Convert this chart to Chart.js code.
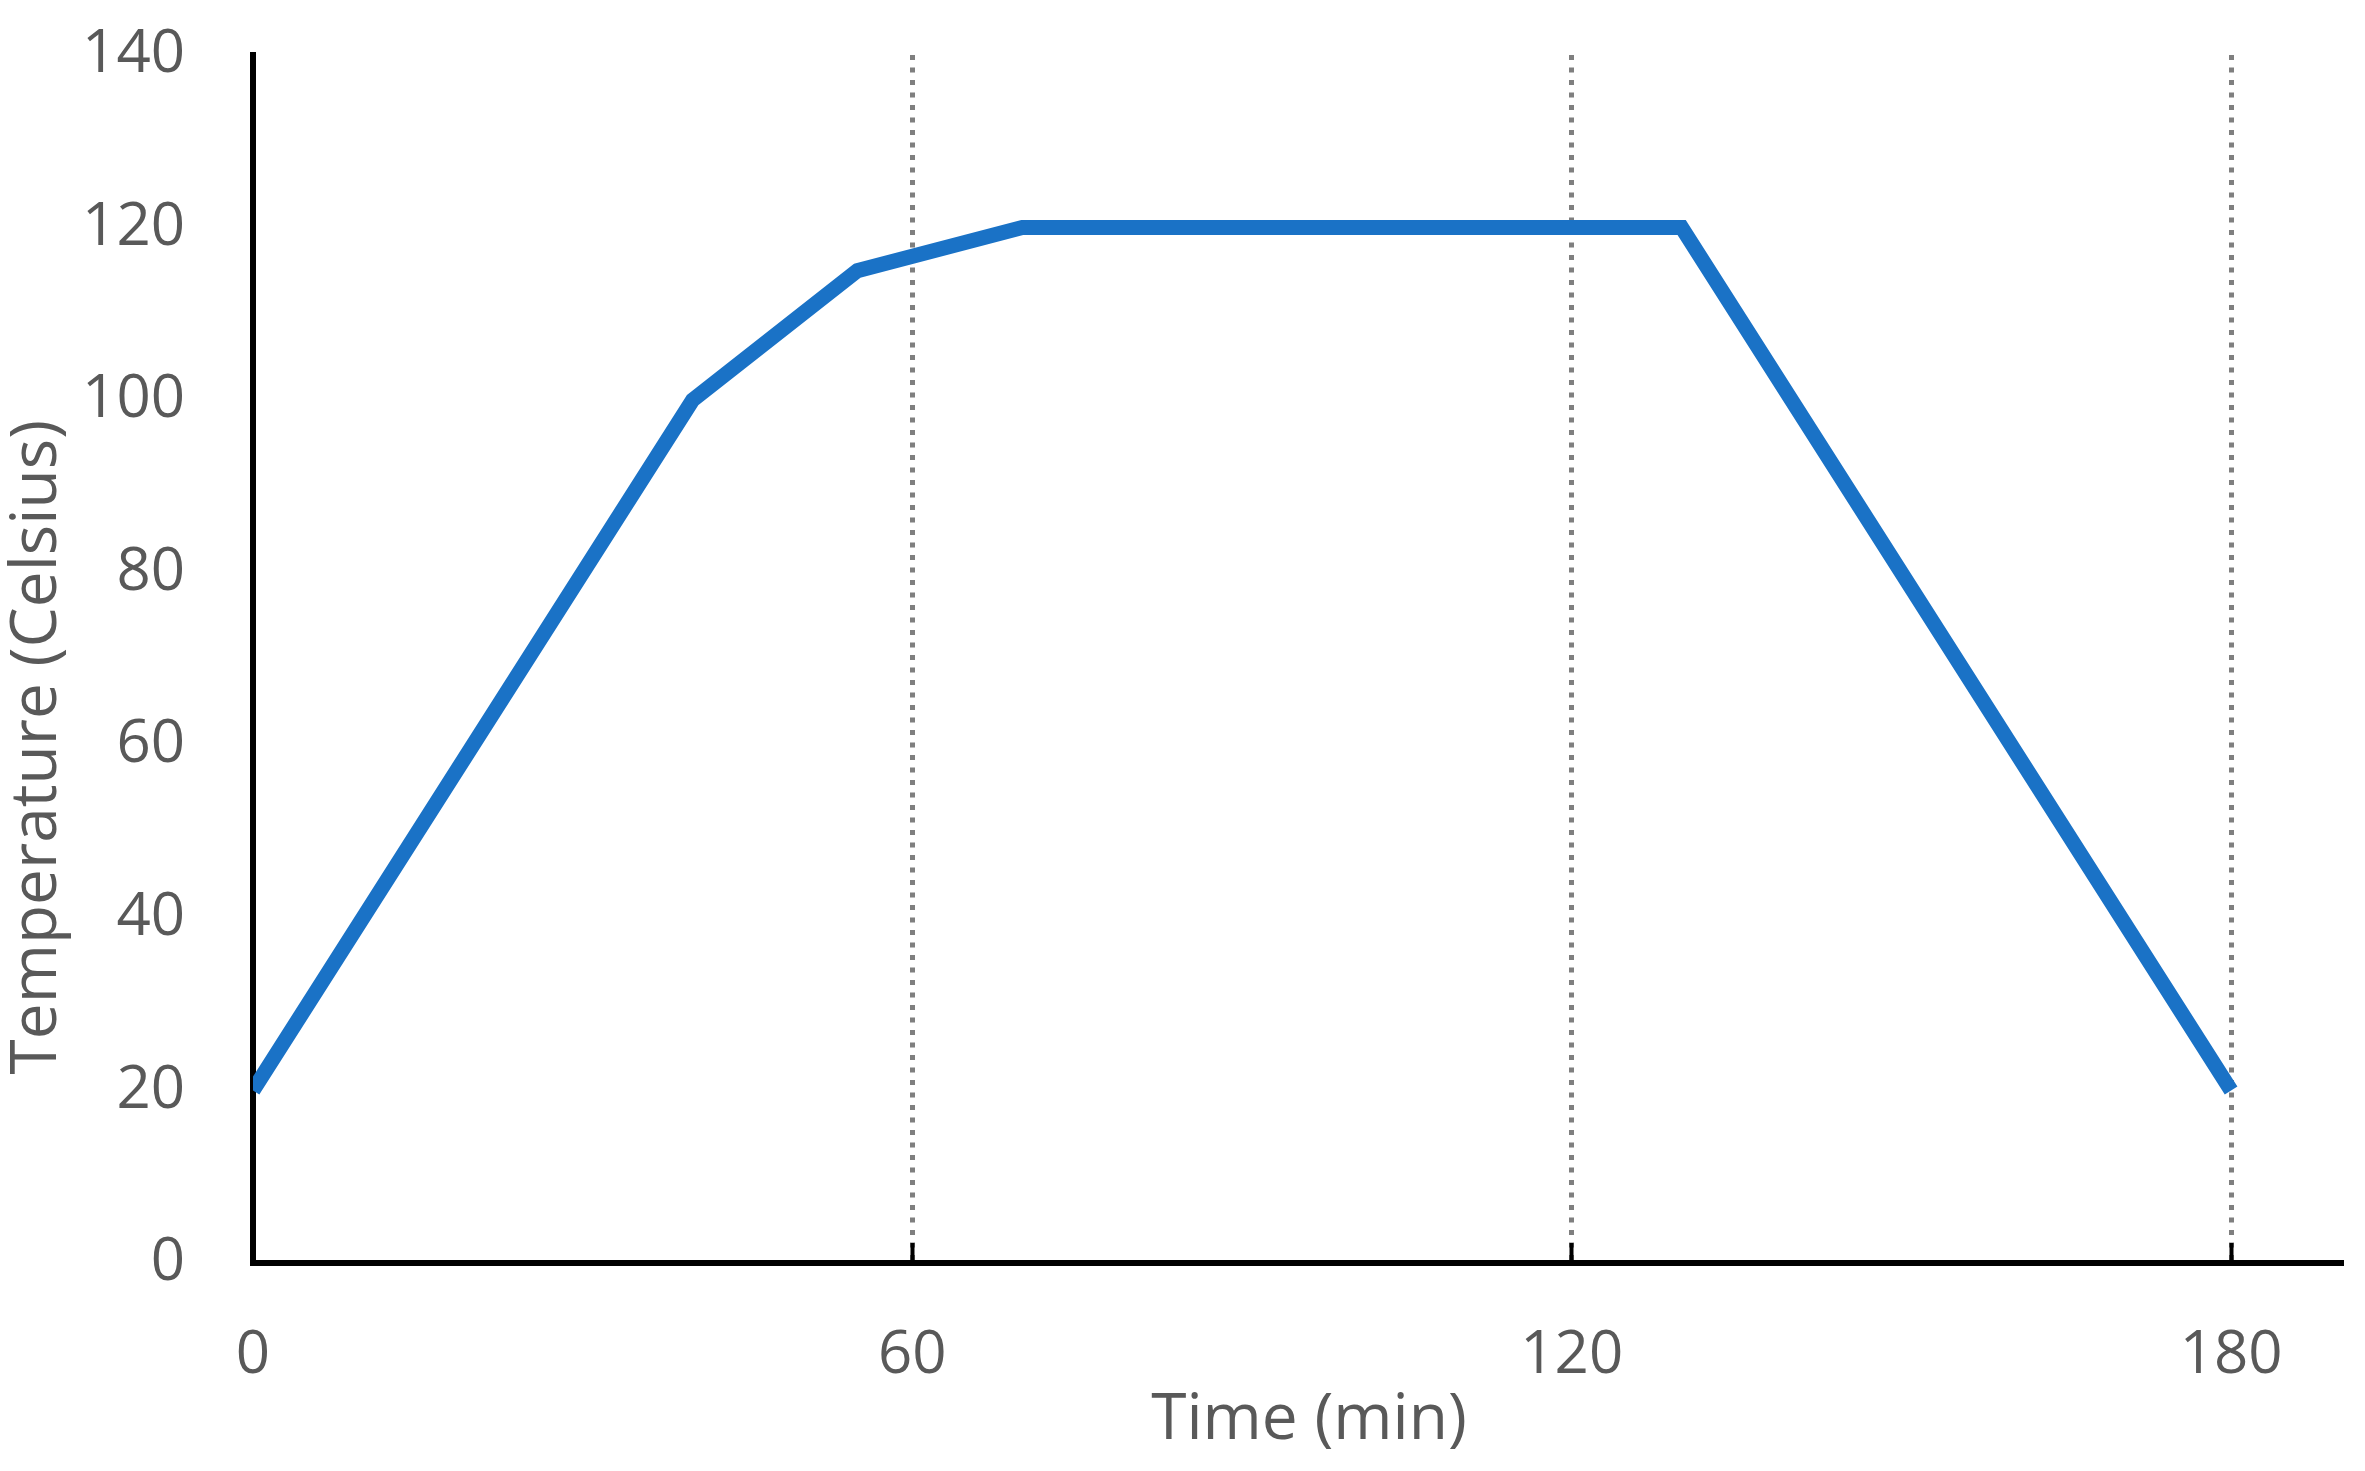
<!DOCTYPE html>
<html>
<head>
<meta charset="utf-8">
<script src="https://cdn.jsdelivr.net/npm/chart.js@4.4.1/dist/chart.umd.min.js"></script>
<style>
  body { margin: 0; background: #fff; }
  #chart-container { width: 2365px; height: 1471px; }
</style>
</head>
<body>
<div id="chart-container"><canvas id="myChart"></canvas></div>
<script>
// Dados
const timeMin = [0, 40, 55, 70, 130, 180];
const temperature = [20, 100, 115, 120, 120, 20];
const xTicks = [0, 60, 120, 180];
const yTicks = [0, 20, 40, 60, 80, 100, 120, 140];

const xTitle = "Time (min)";
const yTitle = "Temperature (Celsius)";

const textColor = "#595959";
const fontFamily = "'Open Sans', 'Noto Sans', sans-serif";

// títulos dos eixos desenhados na posição do original
const axisTitles = {
  id: "axisTitles",
  afterDraw(chart) {
    const { ctx, chartArea } = chart;
    ctx.save();
    ctx.fillStyle = textColor;
    ctx.font = "64px " + fontFamily;
    ctx.textAlign = "center";
    ctx.textBaseline = "middle";

    ctx.fillText(xTitle, (chartArea.left + chartArea.right) / 2 + 12, chartArea.bottom + 158);

    ctx.translate(chartArea.left - 215, chartArea.top + 0.573 * (chartArea.bottom - chartArea.top));
    ctx.rotate(-Math.PI / 2);
    ctx.fillText(yTitle, 0, 0);
    ctx.restore();
  },
};

const ctx = document.getElementById("myChart").getContext("2d");
new Chart(ctx, {
  type: "line",
  data: {
    datasets: [
      {
        label: yTitle,
        data: timeMin.map((t, i) => ({ x: t, y: temperature[i] })),
        borderColor: "#1a72c6",
        borderWidth: 15,
        pointRadius: 0,
        tension: 0,
        fill: false,
        borderJoinStyle: "miter",
      },
    ],
  },
  options: {
    responsive: true,
    maintainAspectRatio: false,
    animation: false,
    layout: { padding: { top: 55, right: 24, left: 0, bottom: 0 } },
    plugins: {
      legend: { display: false },
      tooltip: { enabled: false },
    },
    scales: {
      x: {
        type: "linear",
        min: 0,
        max: 190,
        afterBuildTicks: (scale) => {
          scale.ticks = xTicks.map((v) => ({ value: v }));
        },
        afterFit: (scale) => {
          scale.height = 208;
          scale.paddingLeft = 0;
          scale.paddingRight = 0;
        },
        grid: {
          color: (c) => (c.tick && c.tick.value === 0 ? "rgba(0,0,0,0)" : "#7f7f7f"),
          lineWidth: 5,
          drawTicks: true,
          tickLength: -20,
          tickWidth: 4,
          tickColor: (c) => (c.tick && c.tick.value === 0 ? "rgba(0,0,0,0)" : "#000"),
        },
        border: { display: true, color: "#000", width: 6, dash: [5, 7.5] },
        ticks: {
          padding: 77,
          color: textColor,
          font: { size: 60, family: fontFamily },
          maxRotation: 0,
        },
      },
      y: {
        type: "linear",
        min: 0,
        max: 140,
        afterBuildTicks: (scale) => {
          scale.ticks = yTicks.map((v) => ({ value: v }));
        },
        afterFit: (scale) => {
          scale.width = 253;
          scale.paddingTop = 0;
          scale.paddingBottom = 0;
        },
        grid: { display: false, drawTicks: false },
        border: { display: true, color: "#000", width: 6 },
        ticks: {
          padding: 68,
          color: textColor,
          font: { size: 60, family: fontFamily },
        },
      },
    },
  },
  plugins: [axisTitles],
});
</script>
</body>
</html>
